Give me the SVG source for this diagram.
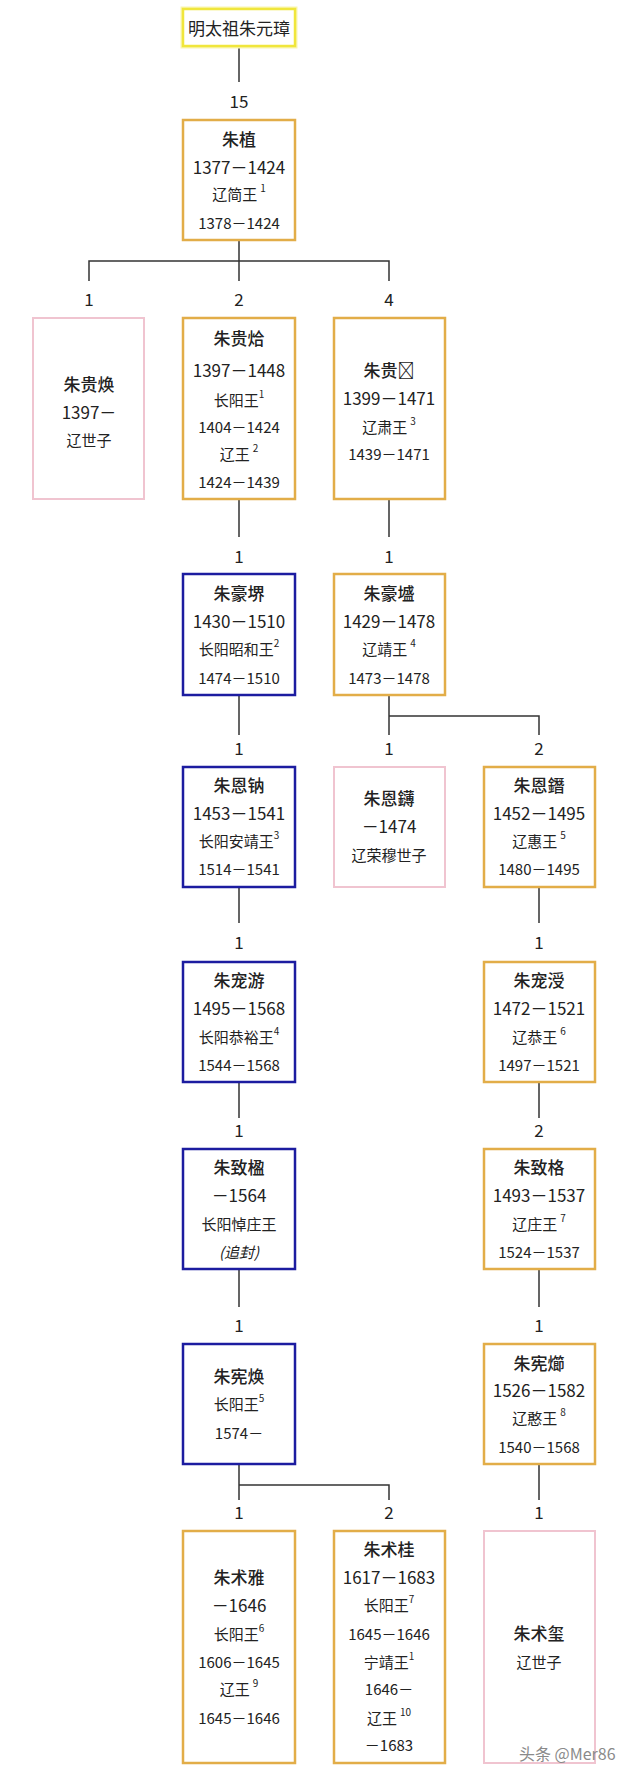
<svg xmlns="http://www.w3.org/2000/svg" width="640" height="1776" viewBox="0 0 640 1776">
<style>
text{font-family:"Noto Sans CJK SC","Noto Sans",sans-serif;fill:#222;text-anchor:middle;dominant-baseline:central}
.nm{font-size:17px;font-weight:500}
.y1{font-size:17px}
.t{font-size:15px}
.y2{font-size:15px}
.lb{font-size:17px}
.s{font-size:10px}
.box{fill:#fff;stroke-width:2.5}
.gold{stroke:#e2ad48}
.blue{stroke:#1c1ca0}
.pink{stroke:#f0c4d0;stroke-width:2}
.yel{stroke:#f0e63c}
#connectors path{fill:none;stroke:#333;stroke-width:1.5}
.wm{font-size:16px;fill:#8a8a8a;text-anchor:start}
</style>
<rect width="640" height="1776" fill="#fff"/>
<g id="connectors">
<path d="M239 46V82"/>
<path d="M239 240V281M89 281V261H389V281"/>
<path d="M239 499V537M389 499V537"/>
<path d="M239 695V735M389 695V735M389 716H539V735"/>
<path d="M239 887V923M539 887V923"/>
<path d="M239 1082V1118M539 1082V1118"/>
<path d="M239 1269V1307M539 1269V1307"/>
<path d="M239 1464V1500M239 1485H389V1500M539 1464V1500"/>
<text class="lb" x="239" y="100">15</text>
<text class="lb" x="89" y="298">1</text>
<text class="lb" x="239" y="298">2</text>
<text class="lb" x="389" y="298">4</text>
<text class="lb" x="239" y="555">1</text>
<text class="lb" x="389" y="555">1</text>
<text class="lb" x="239" y="747">1</text>
<text class="lb" x="389" y="747">1</text>
<text class="lb" x="539" y="747">2</text>
<text class="lb" x="239" y="941">1</text>
<text class="lb" x="539" y="941">1</text>
<text class="lb" x="239" y="1129">1</text>
<text class="lb" x="539" y="1129">2</text>
<text class="lb" x="239" y="1324">1</text>
<text class="lb" x="539" y="1324">1</text>
<text class="lb" x="239" y="1511">1</text>
<text class="lb" x="389" y="1511">2</text>
<text class="lb" x="539" y="1511">1</text>
</g>
<g id="n-taizu">
<rect x="183" y="9" width="112" height="37" fill="none" stroke="#faf6b0" stroke-width="5"/>
<rect class="box yel" x="183" y="9" width="112" height="37"/>
<text class="y1" x="239" y="27">明太祖朱元璋</text>
</g>
<g id="n-zhuzhi">
<rect class="box gold" x="183" y="120" width="112" height="120"/>
<text class="nm" x="239" y="138">朱植</text>
<text class="y1" x="239" y="166">1377－1424</text>
<text class="t" x="239" y="193">辽简王<tspan class="s" dx="3" dy="-6">1</tspan></text>
<text class="y2" x="239" y="222">1378－1424</text>
</g>
<g id="n-guihuan">
<rect class="box pink" x="33" y="318" width="111" height="181"/>
<text class="nm" x="89" y="383">朱贵焕</text>
<text class="y1" x="89" y="411">1397－</text>
<text class="t" x="89" y="439">辽世子</text>
</g>
<g id="n-guihan">
<rect class="box gold" x="183" y="318" width="112" height="181"/>
<text class="nm" x="239" y="337">朱贵烚</text>
<text class="y1" x="239" y="369">1397－1448</text>
<text class="t" x="239" y="399">长阳王<tspan class="s" dy="-6">1</tspan></text>
<text class="y2" x="239" y="426">1404－1424</text>
<text class="t" x="239" y="453">辽王<tspan class="s" dx="3" dy="-6">2</tspan></text>
<text class="y2" x="239" y="481">1424－1439</text>
</g>
<g id="n-gui4">
<rect class="box gold" x="334" y="318" width="111" height="181"/>
<text class="nm" x="389" y="369">朱贵𤇊</text>
<text class="y1" x="389" y="397">1399－1471</text>
<text class="t" x="389" y="426">辽肃王<tspan class="s" dx="3" dy="-6">3</tspan></text>
<text class="y2" x="389" y="453">1439－1471</text>
</g>
<g id="n-haojie">
<rect class="box blue" x="183" y="574" width="112" height="121"/>
<text class="nm" x="239" y="592">朱豪堺</text>
<text class="y1" x="239" y="620">1430－1510</text>
<text class="t" x="239" y="648">长阳昭和王<tspan class="s" dy="-6">2</tspan></text>
<text class="y2" x="239" y="677">1474－1510</text>
</g>
<g id="n-haosheng">
<rect class="box gold" x="334" y="574" width="111" height="121"/>
<text class="nm" x="389" y="592">朱豪墭</text>
<text class="y1" x="389" y="620">1429－1478</text>
<text class="t" x="389" y="648">辽靖王<tspan class="s" dx="3" dy="-6">4</tspan></text>
<text class="y2" x="389" y="677">1473－1478</text>
</g>
<g id="n-enna">
<rect class="box blue" x="183" y="767" width="112" height="120"/>
<text class="nm" x="239" y="784">朱恩钠</text>
<text class="y1" x="239" y="812">1453－1541</text>
<text class="t" x="239" y="840">长阳安靖王<tspan class="s" dy="-6">3</tspan></text>
<text class="y2" x="239" y="868">1514－1541</text>
</g>
<g id="n-enbo">
<rect class="box pink" x="334" y="767" width="111" height="120"/>
<text class="nm" x="389" y="797">朱恩鑮</text>
<text class="y1" x="389" y="825">－1474</text>
<text class="t" x="389" y="854">辽荣穆世子</text>
</g>
<g id="n-enzan">
<rect class="box gold" x="484" y="767" width="111" height="120"/>
<text class="nm" x="539" y="784">朱恩鐕</text>
<text class="y1" x="539" y="812">1452－1495</text>
<text class="t" x="539" y="840">辽惠王<tspan class="s" dx="3" dy="-6">5</tspan></text>
<text class="y2" x="539" y="868">1480－1495</text>
</g>
<g id="n-chongyou">
<rect class="box blue" x="183" y="962" width="112" height="120"/>
<text class="nm" x="239" y="979">朱宠游</text>
<text class="y1" x="239" y="1007">1495－1568</text>
<text class="t" x="239" y="1036">长阳恭裕王<tspan class="s" dy="-6">4</tspan></text>
<text class="y2" x="239" y="1064">1544－1568</text>
</g>
<g id="n-chongshou">
<rect class="box gold" x="484" y="962" width="111" height="120"/>
<text class="nm" x="539" y="979">朱宠涭</text>
<text class="y1" x="539" y="1007">1472－1521</text>
<text class="t" x="539" y="1036">辽恭王<tspan class="s" dx="3" dy="-6">6</tspan></text>
<text class="y2" x="539" y="1064">1497－1521</text>
</g>
<g id="n-zhiying">
<rect class="box blue" x="183" y="1149" width="112" height="120"/>
<text class="nm" x="239" y="1166">朱致楹</text>
<text class="y1" x="239" y="1194">－1564</text>
<text class="t" x="239" y="1223">长阳悼庄王</text>
<text class="t" x="239" y="1251" font-style="italic">(追封)</text>
</g>
<g id="n-zhige">
<rect class="box gold" x="484" y="1149" width="111" height="120"/>
<text class="nm" x="539" y="1166">朱致格</text>
<text class="y1" x="539" y="1194">1493－1537</text>
<text class="t" x="539" y="1223">辽庄王<tspan class="s" dx="3" dy="-6">7</tspan></text>
<text class="y2" x="539" y="1251">1524－1537</text>
</g>
<g id="n-xianhuan">
<rect class="box blue" x="183" y="1344" width="112" height="120"/>
<text class="nm" x="239" y="1375">朱宪焕</text>
<text class="t" x="239" y="1403">长阳王<tspan class="s" dy="-6">5</tspan></text>
<text class="y2" x="239" y="1432">1574－</text>
</g>
<g id="n-xianjie">
<rect class="box gold" x="484" y="1344" width="111" height="120"/>
<text class="nm" x="539" y="1362">朱宪㸅</text>
<text class="y1" x="539" y="1389">1526－1582</text>
<text class="t" x="539" y="1417">辽憨王<tspan class="s" dx="3" dy="-6">8</tspan></text>
<text class="y2" x="539" y="1446">1540－1568</text>
</g>
<g id="n-shuya">
<rect class="box gold" x="183" y="1531" width="112" height="232"/>
<text class="nm" x="239" y="1576">朱术雅</text>
<text class="y1" x="239" y="1604">－1646</text>
<text class="t" x="239" y="1633">长阳王<tspan class="s" dy="-6">6</tspan></text>
<text class="y2" x="239" y="1661">1606－1645</text>
<text class="t" x="239" y="1688">辽王<tspan class="s" dx="3" dy="-6">9</tspan></text>
<text class="y2" x="239" y="1717">1645－1646</text>
</g>
<g id="n-shugui">
<rect class="box gold" x="334" y="1531" width="111" height="232"/>
<text class="nm" x="389" y="1548">朱术桂</text>
<text class="y1" x="389" y="1576">1617－1683</text>
<text class="t" x="389" y="1604">长阳王<tspan class="s" dy="-6">7</tspan></text>
<text class="y2" x="389" y="1633">1645－1646</text>
<text class="t" x="389" y="1661">宁靖王<tspan class="s" dy="-6">1</tspan></text>
<text class="y2" x="389" y="1688">1646－</text>
<text class="t" x="389" y="1717">辽王<tspan class="s" dx="3" dy="-6">10</tspan></text>
<text class="y2" x="389" y="1744">－1683</text>
</g>
<g id="n-shuxi">
<rect class="box pink" x="484" y="1531" width="111" height="232"/>
<text class="nm" x="539" y="1632">朱术玺</text>
<text class="t" x="539" y="1661">辽世子</text>
</g>
<text class="wm" x="519" y="1753">头条 @Mer86</text>
</svg>
